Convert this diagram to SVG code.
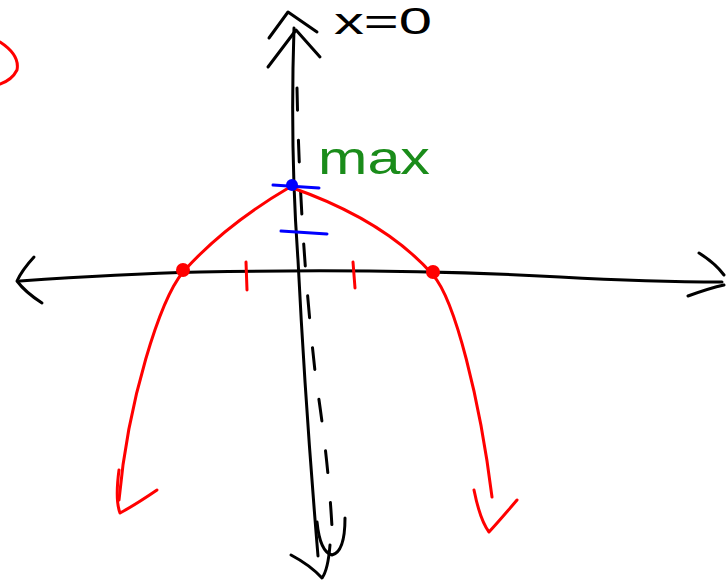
<svg xmlns="http://www.w3.org/2000/svg" width="726" height="582" viewBox="0 0 726 582">
<style>
.k{fill:none;stroke:#000;stroke-width:3;stroke-linecap:round;stroke-linejoin:round}
.r{fill:none;stroke:#f00;stroke-width:3;stroke-linecap:round;stroke-linejoin:round}
.b{fill:none;stroke:#00f;stroke-width:3;stroke-linecap:round}
.d{stroke-dasharray:22 30}
</style>
<rect width="726" height="582" fill="#fff"/>
<g id="axes">
<path class="k" d="M20 281 Q120 274 200 272 Q400 268 560 277 Q650 282 722 282"/>
<path class="k" d="M34 257 Q22 270 17 281 Q25 292 42 303"/>
<path class="k" d="M699 253 Q715 263 724 275 M688 296 Q710 288 724 285"/>
<path class="k" d="M294 28 Q290 150 298 260 Q305 400 318 556"/>
<path class="k" d="M269 38 L288 12 L317 32 M268 67 L296 30 L320 57"/>
<path class="k" d="M291 555 Q310 565 322 578 Q328 570 330 545"/>
</g>
<g id="symmetry">
<path class="k d" d="M297 88 Q300 240 316 380 Q330 470 333 548"/>
<path class="k" d="M317 522 Q320 552 332 555 Q345 552 345 518"/>
</g>
<g id="parabola">
<path class="r" d="M119 500 C128 400 160 300 183 272 Q225 225 290 187 Q385 220 433 275 C455 300 480 400 492 497"/>
<path class="r" d="M119 470 Q115 500 120 513 Q135 505 157 490"/>
<path class="r" d="M474 490 Q480 520 489 532 Q500 520 517 500"/>
<path class="r" d="M246 262 L247 290 M353 262 L355 288"/>
<circle cx="183" cy="270" r="7" fill="#f00"/>
<circle cx="433" cy="272" r="7" fill="#f00"/>
<path class="r" d="M0 42 Q20 55 17 70 Q12 80 0 84"/>
</g>
<g id="marks">
<path class="b" d="M273 185 L319 188 M281 231 L327 234"/>
<circle cx="292" cy="185" r="6" fill="#00f"/>
</g>
<g id="labels">
<text x="334" y="34" font-family="Liberation Sans, sans-serif" font-size="36" textLength="98" lengthAdjust="spacingAndGlyphs">x=0</text>
<text x="318" y="174" font-family="Liberation Sans, sans-serif" font-size="46" fill="#1a8c1a" textLength="112" lengthAdjust="spacingAndGlyphs">max</text>
</g>
</svg>
